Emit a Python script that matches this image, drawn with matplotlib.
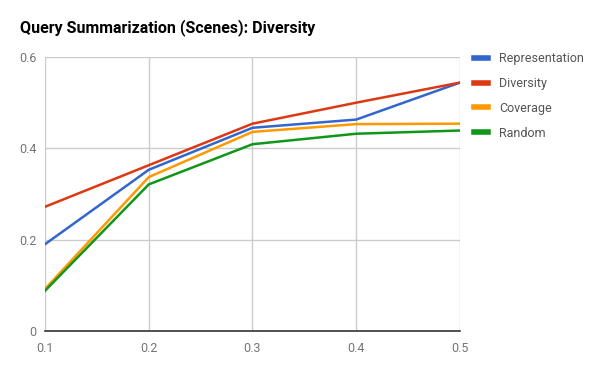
import matplotlib
matplotlib.use("Agg")
import matplotlib.pyplot as plt

x_vals = [0.1, 0.2, 0.3, 0.4, 0.5]
representation = [0.190, 0.353, 0.445, 0.463, 0.544]
diversity = [0.272, 0.363, 0.454, 0.500, 0.544]
coverage = [0.092, 0.337, 0.436, 0.453, 0.454]
random_vals = [0.088, 0.321, 0.409, 0.432, 0.439]
series_names = ["Representation", "Diversity", "Coverage", "Random"]
colors = ["#3366cc", "#dc3912", "#ff9900", "#109618"]
y_ticks = [0, 0.2, 0.4, 0.6]
y_tick_labels = ["0", "0.2", "0.4", "0.6"]
x_tick_labels = ["0.1", "0.2", "0.3", "0.4", "0.5"]
title = "Query Summarization (Scenes): Diversity"

plt.rcParams['font.family'] = ['Roboto', 'DejaVu Sans']

fig = plt.figure(figsize=(6, 3.71), dpi=100)
ax = fig.add_axes([45/600, 1-331/371, (460-45)/600, (331-57)/371])

for name, vals, c in zip(series_names, [representation, diversity, coverage, random_vals], colors):
    ax.plot(x_vals, vals, color=c, lw=1.8, label=name, zorder=3)

ax.set_xlim(0.1, 0.5)
ax.set_ylim(0, 0.6)
ax.set_xticks(x_vals)
ax.set_xticklabels(x_tick_labels)
ax.set_yticks(y_ticks)
ax.set_yticklabels(y_tick_labels)
ax.grid(True, color="#cccccc", lw=1)
ax.set_axisbelow(True)
for s in ["top", "right", "left"]:
    ax.spines[s].set_visible(False)
ax.spines["bottom"].set_color("#333333")
ax.spines["bottom"].set_linewidth(1.2)
ax.spines["bottom"].set_zorder(4)
ax.tick_params(length=0, labelsize=9, labelcolor="#757575", pad=8)
ax.tick_params(axis='y', pad=6)

fig.text(20/600, 1-28/371, title, fontsize=11.5, fontweight='bold', color="#000000", va='center', ha='left')

leg = fig.legend(loc='upper left', bbox_to_anchor=(474/600, 1-52/371), frameon=False,
                 fontsize=9, handlelength=1.1, handletextpad=0.9, labelspacing=0.95,
                 labelcolor="#555555", borderaxespad=0, borderpad=0)
for l in leg.get_lines():
    l.set_linewidth(4)

fig.savefig("out.png", dpi=100)
